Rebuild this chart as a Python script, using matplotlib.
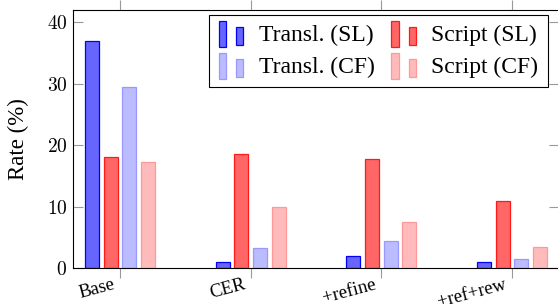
import matplotlib
matplotlib.use("Agg")
import matplotlib.pyplot as plt
import numpy as np
from matplotlib.patches import Rectangle
from matplotlib.legend_handler import HandlerBase
import matplotlib.transforms as mtransforms

categories = ["Base", "CER", "+refine", "+ref+rew"]
transl_sl = [37.0, 1.0, 2.0, 1.0]
script_sl = [18.1, 18.5, 17.8, 10.9]
transl_cf = [29.5, 3.2, 4.4, 1.5]
script_cf = [17.2, 9.9, 7.5, 3.4]
series_labels = ["Transl. (SL)", "Script (SL)", "Transl. (CF)", "Script (CF)"]
yticks = [0, 10, 20, 30, 40]

plt.rcParams['font.family'] = ['Liberation Serif', 'DejaVu Serif']
plt.rcParams['mathtext.fontset'] = 'cm'

fig = plt.figure(figsize=(5.58, 3.04), dpi=100)
ax = fig.add_axes([73/558, 36/304, 486/558, 258/304])

styles = [
    dict(fc="#6666FF", ec="#0000FF"),
    dict(fc="#FF6666", ec="#FF1A1A"),
    dict(fc="#BBBBFF", ec="#9999FF"),
    dict(fc="#FFBBBB", ec="#FF9999"),
]
data = [transl_sl, script_sl, transl_cf, script_cf]
x = np.arange(len(categories))
offsets = [-0.215, -0.072, 0.072, 0.215]
width = 0.107
handles = []
for vals, off, st, lab in zip(data, offsets, styles, series_labels):
    b = ax.bar(x + off, vals, width, facecolor=st["fc"], edgecolor=st["ec"],
               linewidth=0.9, label=lab, zorder=2)
    handles.append(b.patches[0])

ax.set_xlim(-0.36, 3.36)
ax.set_ylim(0, 42)
ax.tick_params(axis='y', direction='in', length=7.2, width=0.8, color='#999999',
               left=True, right=True, pad=4)
ax.tick_params(axis='x', direction='out', length=7.2, width=0.8, color='#999999',
               bottom=True, top=True, pad=2)
ax.set_yticks(yticks)
ax.set_yticklabels([f"${v}$" for v in yticks], fontsize=14)
ax.set_xticks(x)
ax.set_xticklabels(categories, fontsize=13.5, rotation=15, ha='right',
                   va='top', rotation_mode='anchor')
off = mtransforms.ScaledTranslation(-8/100, 5/100, fig.dpi_scale_trans)
for lbl in ax.get_xticklabels():
    lbl.set_transform(lbl.get_transform() + off)

for s in ax.spines.values():
    s.set_linewidth(0.8)
    s.set_color('black')

ax.set_ylabel("Rate (%)", fontsize=16.5, labelpad=12.5)


class TwoBar(HandlerBase):
    def create_artists(self, legend, orig_handle, xdescent, ydescent, width,
                       height, fontsize, trans):
        fc = orig_handle.get_facecolor()
        ec = orig_handle.get_edgecolor()
        w = width * 0.3
        r1 = Rectangle((-xdescent, -ydescent - 0.35 * height), w, height * 1.55,
                       facecolor=fc, edgecolor=ec, linewidth=0.9, transform=trans)
        r2 = Rectangle((-xdescent + width - w, -ydescent - 0.25 * height), w,
                       height * 1.1, facecolor=fc, edgecolor=ec, linewidth=0.9,
                       transform=trans)
        return [r1, r2]


order = [0, 2, 1, 3]
leg = ax.legend([handles[i] for i in order], [series_labels[i] for i in order],
                ncol=2, loc='upper right', bbox_to_anchor=(0.977, 0.981),
                borderaxespad=0, fontsize=17, frameon=True, fancybox=False,
                edgecolor='black', framealpha=1, handlelength=1.05,
                handletextpad=0.65, columnspacing=0.7, labelspacing=0.45,
                borderpad=0.4,
                handler_map={Rectangle: TwoBar()})
leg.get_frame().set_linewidth(0.8)

fig.savefig("out.png", dpi=100)
